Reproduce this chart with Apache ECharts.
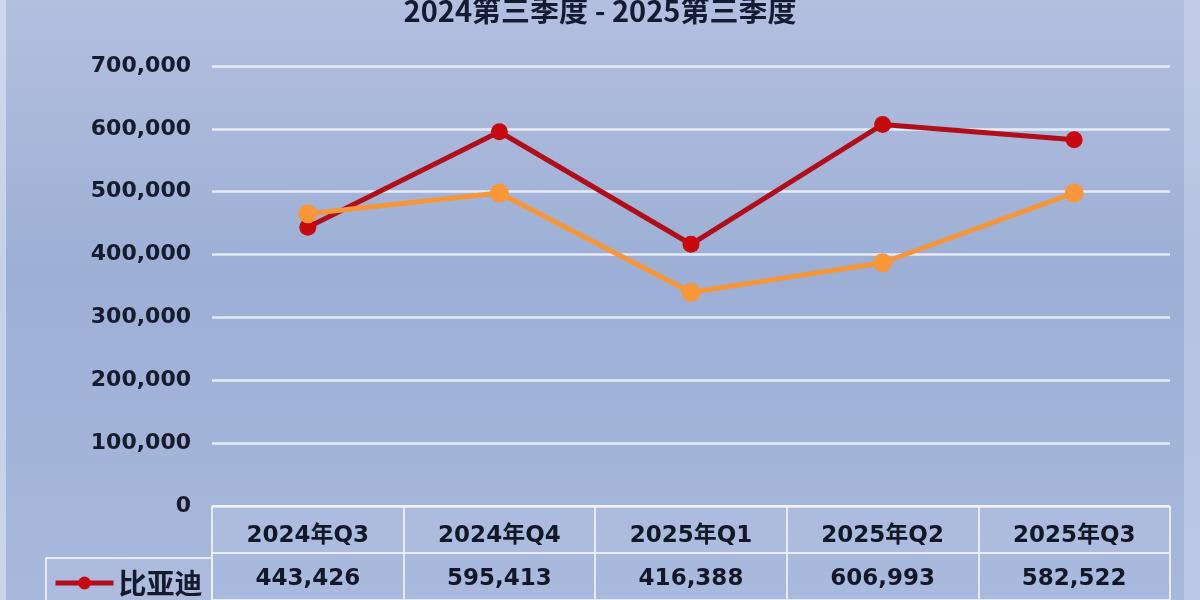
<!DOCTYPE html>
<html>
<head>
<meta charset="utf-8">
<script src="https://cdn.jsdelivr.net/npm/echarts@6/dist/echarts.min.js"></script>
<style>
  html, body { margin: 0; padding: 0; }
  #chart { width: 1200px; height: 600px; }
</style>
</head>
<body>
<div id="chart"></div>
<script>
const titleText = '2024第三季度 - 2025第三季度'
const categories = ['2024年Q3', '2024年Q4', '2025年Q1', '2025年Q2', '2025年Q3']
const bydSales = [443426, 595413, 416388, 606993, 582522]
// second series: its table row is cut off
const otherSales = [465000, 498000, 340000, 387000, 498000]
const tableRows = ['表头', '比亚迪']

const numFont = "'DejaVu Sans', 'Noto Sans CJK SC', sans-serif"
const cjkFont = "'Noto Sans CJK SC', 'DejaVu Sans', sans-serif"
const fmt = v => Number(v).toLocaleString('en-US')

const chart = echarts.init(document.getElementById('chart'))

chart.setOption({
  backgroundColor: {
    type: 'linear', x: 0, y: 0, x2: 0, y2: 1,
    colorStops: [
      { offset: 0, color: '#b4bfe0' },
      { offset: 0.45, color: '#9dafd5' },
      { offset: 1, color: '#a8b8dd' }
    ]
  },
  animation: false,
  title: {
    text: titleText,
    left: 'center',
    top: -9,
    textStyle: { fontFamily: cjkFont, fontSize: 29, fontWeight: 'bold', color: '#141b33' }
  },
  legend: {
    data: ['比亚迪'],
    left: 48,
    top: 564,
    itemWidth: 58,
    itemHeight: 16,
    itemGap: 4,
    lineStyle: { width: 5 },
    textStyle: { fontFamily: cjkFont, fontSize: 28, fontWeight: 'bold', color: '#151a2c' }
  },
  graphic: [
    {
      type: 'rect',
      shape: { x: 46, y: 558, width: 166, height: 60 },
      style: { fill: 'rgba(255,255,255,0.05)', stroke: 'rgba(240,244,252,0.85)', lineWidth: 2 },
      silent: true
    },
    {
      type: 'rect',
      shape: { x: 0, y: 0, width: 6, height: 600 },
      style: { fill: 'rgba(225,231,246,0.6)' },
      silent: true
    },
    {
      type: 'rect',
      shape: { x: 1184, y: 0, width: 16, height: 600 },
      style: { fill: 'rgba(225,231,246,0.35)' },
      silent: true
    }
  ],
  grid: [
    { left: 212, right: 30, top: 66, bottom: 94 },
    { left: 212, right: 30, top: 506, height: 104 }
  ],
  xAxis: [
    {
      type: 'category',
      gridIndex: 0,
      data: categories,
      axisLine: { show: false },
      axisTick: { show: false },
      axisLabel: {
        margin: 19,
        fontFamily: numFont,
        fontSize: 23,
        fontWeight: 'bold',
        color: '#131829'
      }
    },
    {
      type: 'category',
      gridIndex: 1,
      data: categories,
      axisLine: { show: false },
      axisTick: { show: false },
      axisLabel: { show: false },
      splitLine: { show: true, lineStyle: { color: 'rgba(240,244,252,0.85)', width: 2 } }
    }
  ],
  yAxis: [
    {
      type: 'value',
      gridIndex: 0,
      min: 0,
      max: 700000,
      interval: 100000,
      axisLine: { show: false },
      axisTick: { show: false },
      axisLabel: {
        margin: 21,
        formatter: fmt,
        fontFamily: numFont,
        fontSize: 22,
        fontWeight: 'bold',
        color: '#161b2e'
      },
      splitLine: { lineStyle: { color: 'rgba(240,244,252,0.85)', width: 2.5 } }
    },
    {
      type: 'category',
      gridIndex: 1,
      data: tableRows,
      inverse: true,
      axisLine: { show: false },
      axisTick: { show: false },
      axisLabel: { show: false },
      splitLine: { show: true, lineStyle: { color: 'rgba(240,244,252,0.85)', width: 2 } },
      splitArea: { show: true, areaStyle: { color: ['rgba(255,255,255,0.08)', 'rgba(255,255,255,0.03)'] } }
    }
  ],
  series: [
    {
      name: '比亚迪',
      type: 'line',
      data: bydSales,
      symbol: 'circle',
      symbolSize: 17,
      lineStyle: { color: '#b00f1a', width: 5 },
      itemStyle: { color: '#c80a10' },
      z: 3
    },
    {
      name: '其他',
      type: 'line',
      data: otherSales,
      symbol: 'circle',
      symbolSize: 19,
      lineStyle: { color: '#f5963a', width: 5 },
      itemStyle: { color: '#f8963a' },
      z: 4
    },
    {
      name: '数据表',
      type: 'scatter',
      xAxisIndex: 1,
      yAxisIndex: 1,
      data: bydSales.map((v, i) => [categories[i], '比亚迪', v]),
      symbolSize: 1,
      itemStyle: { color: 'rgba(0,0,0,0)', opacity: 1 },
      silent: true,
      label: {
        show: true,
        position: 'inside',
        offset: [0, 3],
        formatter: p => fmt(p.value[2]),
        fontFamily: numFont,
        fontSize: 23,
        fontWeight: 'bold',
        color: '#131829'
      }
    }
  ]
})
</script>
</body>
</html>
